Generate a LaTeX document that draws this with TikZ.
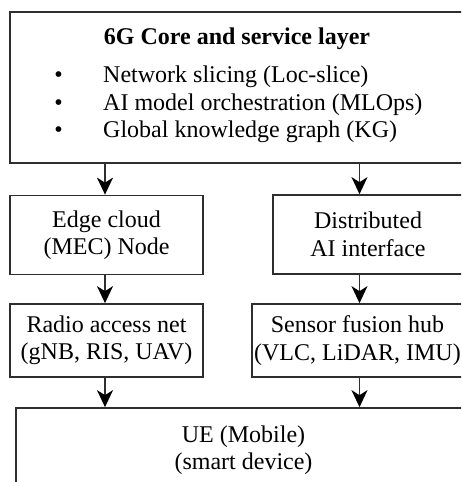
\documentclass[tikz,border=0pt]{standalone}
\usepackage{fontspec}
\setmainfont{Liberation Serif}
\usetikzlibrary{arrows.meta}
\definecolor{linegray}{HTML}{2E2E2E}
\newcommand\diagfont{\fontsize{24}{27.5}\selectfont}
\begin{document}
\begin{tikzpicture}[x=1pt,y=1pt,
  box/.style={draw=linegray, line width=1.7pt, inner sep=0pt, align=center, font=\diagfont},
  itemtext/.style={inner sep=0pt, anchor=base west, font=\diagfont},
  bulletmark/.style={inner sep=0pt, anchor=base, font=\diagfont},
  conn/.style={draw=linegray, line width=1.6pt, -{Stealth[length=17pt,width=16pt,inset=5pt,color=black]}}]
\path[use as bounding box] (0,0) rectangle (461,482);
\clip (0,0) rectangle (461,482);

% core layer with its title and bullet list
\node[box, minimum width=455pt, minimum height=151pt] (core) at (237.5,394.5) {};
\node[inner sep=0pt, anchor=base, font=\diagfont\bfseries] (title) at (237,437) {6G Core and service layer};
\node[bulletmark] (b1) at (58.5,399) {•};
\node[itemtext]   (t1) at (103,399) {Network slicing (Loc-slice)};
\node[bulletmark] (b2) at (58.5,371.5) {•};
\node[itemtext]   (t2) at (103,371.5) {AI model orchestration (MLOps)};
\node[bulletmark] (b3) at (58.5,344) {•};
\node[itemtext]   (t3) at (103,344) {Global knowledge graph (KG)};

% middle layers
\node[box, minimum width=193pt, minimum height=79pt] (edge) at (106.5,247) {Edge cloud\\(MEC) Node};
\node[box, minimum width=190pt, minimum height=79pt] (dai)  at (368,247.5) {Distributed\\AI interface};
\node[box, minimum width=193pt, minimum height=73pt] (ran)  at (106.5,141.5) {Radio access net\\(gNB, RIS, UAV)};
\node[box, minimum width=211pt, minimum height=73pt] (sfh)  at (357.5,141.5) {Sensor fusion hub\\(VLC, LiDAR, IMU)};

% user equipment
\node[box, minimum width=455pt, minimum height=84pt] (ue) at (243.5,32) {UE (Mobile)\\(smart device)};

% vertical columns for the connectors
\coordinate (lx) at (105,0);
\coordinate (rx) at (359.5,0);

\draw[conn] (core.south -| lx) -- (edge.north -| lx);
\draw[conn] (core.south -| rx) -- (dai.north -| rx);
\draw[conn] (edge.south -| lx) -- (ran.north -| lx);
\draw[conn] (dai.south -| rx) -- (sfh.north -| rx);
\draw[conn] (ran.south -| lx) -- (ue.north -| lx);
\draw[conn] (sfh.south -| rx) -- (ue.north -| rx);
\end{tikzpicture}
\end{document}
